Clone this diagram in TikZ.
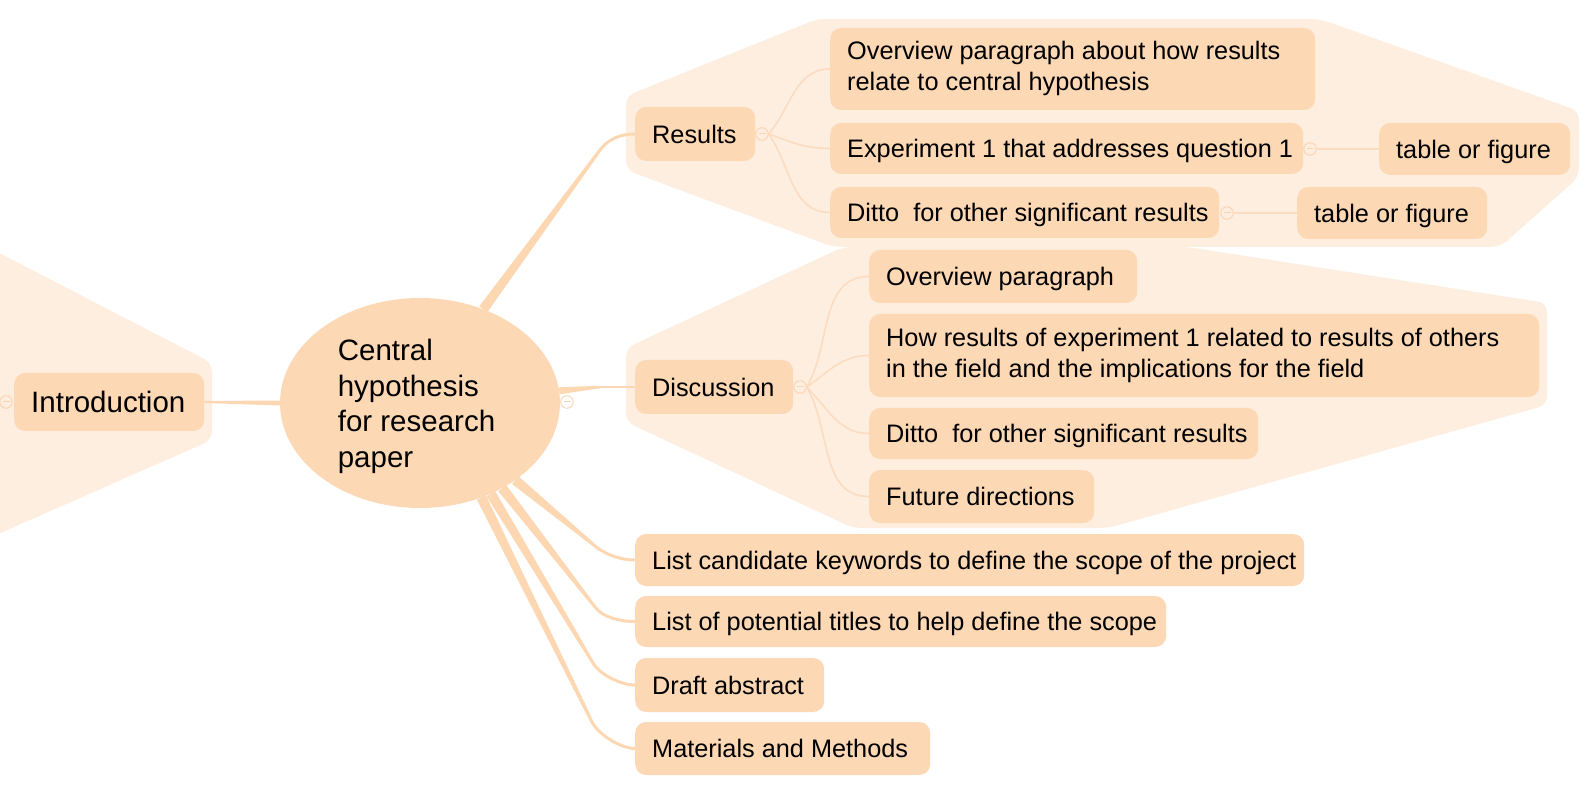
\documentclass[tikz,border=0pt]{standalone}
\usepackage{fontspec}
\setmainfont{Liberation Sans}
\usetikzlibrary{calc,shapes.geometric}
\definecolor{nodefill}{RGB}{253,216,181}
\definecolor{bndfill}{RGB}{254,238,224}
\definecolor{branchc}{RGB}{253,215,178}
\definecolor{twig}{RGB}{252,220,192}
\definecolor{mk}{RGB}{251,212,178}
\pgfdeclarelayer{bndlayer}
\pgfdeclarelayer{brlayer}
\pgfsetlayers{bndlayer,brlayer,main}
\newcommand\taperseg[4]{\fill[branchc] ($(#1)!#3!90:(#2)$) -- ($(#2)!#4!-90:(#1)$) -- ($(#2)!#4!90:(#1)$) -- ($(#1)!#3!-90:(#2)$) -- cycle;}
\newcommand\bendcurve[3]{\fill[branchc] (#2) circle (1.5pt); \draw[branchc, line width=3pt] (#2) .. controls ($(#2)!-14pt!(#1)$) and ($(#3)+(-14,0)$) .. (#3);}
\newcommand\tx[2]{\makebox[#1][l]{#2}}
\newcommand\twolines[2]{\begin{tabular}{@{}l@{}}#1\\#2\end{tabular}}
\tikzset{
  topicbase/.style={fill=nodefill, rounded corners=11pt, inner ysep=0pt, inner xsep=17pt, minimum height=52pt,
    font=\fontsize{25.3}{31}\selectfont, anchor=west, text=black},
  topic/.style={topicbase, text height=18.5pt, text depth=0pt},
  bigtopic/.style={topic, font=\fontsize{29.5}{35.5}\selectfont, text height=21pt, text depth=0pt},
  bnd/.style={fill=bndfill, rounded corners=9pt},
  twigline/.style={draw=twig, line width=1.6pt},
  colmarker/.style={circle, draw=mk, line width=1pt, minimum size=12.5pt, inner sep=0pt,
    path picture={\draw[mk, line width=1pt] ([xshift=-3.5pt]path picture bounding box.center) -- ([xshift=3.5pt]path picture bounding box.center);}}
}
\begin{document}
\begin{tikzpicture}[x=1pt,y=-1pt]
\useasboundingbox (0,0) rectangle (1588,791);
% boundaries
\begin{pgfonlayer}{bndlayer}
\begin{scope}
\clip (0,0) rectangle (1588,791);
\fill[bnd] (-20,243) -- (212,363) -- (212,440) -- (-20,542) -- cycle;
\end{scope}
\fill[bnd] (626,96) -- (817,19) -- (1320,19) -- (1579,111) -- (1579,177) -- (1500,247) -- (833,247) -- (626,170) -- cycle;
\fill[bnd] (626,348) -- (843,247) -- (1188,247) -- (1547,303) -- (1547,405) -- (1108,528) -- (853,528) -- (626,422) -- cycle;
\end{pgfonlayer}

% central topic
\node[ellipse, fill=nodefill, minimum width=280pt, minimum height=210pt, inner sep=0pt,
  font=\fontsize{29.5}{35.5}\selectfont] (hyp) at (420,403)
  {\hspace*{-7pt}\raisebox{-4pt}[\height][\depth]{\begin{tabular}{@{}l@{}}Central\\hypothesis\\for research\\paper\end{tabular}}};

% main topics
\node[bigtopic, minimum height=58pt] (intro) at (14,402) {\tx{156pt}{Introduction}};
\node[topic, minimum height=54pt] (res) at (635,134) {\tx{86pt}{Results}};
\node[topic, minimum height=54pt] (disc) at (635,387) {\tx{124pt}{Discussion}};
\node[topic] (kw) at (635,560) {\tx{635pt}{List candidate keywords to define the scope of the project}};
\node[topic, minimum height=51pt] (titles) at (635,621.5) {\tx{497pt}{List of potential titles to help define the scope}};
\node[topic, minimum height=54pt] (draft) at (635,685) {\tx{155pt}{Draft abstract}};
\node[topic, minimum height=53pt] (meth) at (635,748.5) {\tx{261pt}{Materials and Methods}};

% result children
\node[topicbase, minimum height=82pt] (ovres) at (830,69) {\tx{451pt}{\twolines{Overview paragraph about how results}{relate to central hypothesis}}};
\node[topic, minimum height=51pt] (exp1) at (830,148.5) {\tx{439pt}{Experiment 1 that addresses question 1}};
\node[topic, minimum height=51pt] (dittor) at (830,212.5) {\tx{355pt}{Ditto\ \ for other significant results}};
\node[topic] (tab1) at (1379,149) {\tx{157pt}{table or figure}};
\node[topic] (tab2) at (1297,213) {\tx{156pt}{table or figure}};

% discussion children
\node[topic, minimum height=53pt] (ovp) at (869,276.5) {\tx{234pt}{Overview paragraph}};
\node[topicbase, minimum height=83pt] (how) at (869,355.5) {\tx{636pt}{\twolines{How results of experiment 1 related to results of others}{in the field and the implications for the field}}};
\node[topic, minimum height=51pt] (dittod) at (869,433.5) {\tx{355pt}{Ditto\ \ for other significant results}};
\node[topic, minimum height=53pt] (fut) at (869,496.5) {\tx{191pt}{Future directions}};

% collapse markers
\node[colmarker] (mc) at (567,402) {};
\node[colmarker] (mres) at (762,134) {};
\node[colmarker] (mdisc) at (800,387) {};
\node[colmarker] (mexp) at (1310,149) {};
\node[colmarker] (mdit) at (1227,213) {};
\begin{scope}
\clip (0,0) rectangle (1588,791);
\node[colmarker] (mintro) at (6,402) {};
\end{scope}

% bend coordinates
\coordinate (rb) at (600,150);
\coordinate (dbd) at (600,387);
\coordinate (kb) at (595,546);
\coordinate (tb) at (595,607);
\coordinate (db) at (593,663);
\coordinate (mb) at (592,722);

% main branches
\begin{pgfonlayer}{brlayer}
\taperseg{hyp.180}{intro.east}{2.5pt}{1pt}
\taperseg{hyp.56}{rb}{5pt}{1.5pt}
\bendcurve{hyp.56}{rb}{res.west}
\taperseg{hyp.5}{dbd}{3.5pt}{1.25pt}
\draw[branchc, line width=2.5pt] (dbd) -- (disc.west);
\taperseg{hyp.-39.4}{kb}{5pt}{1.5pt}
\bendcurve{hyp.-39.4}{kb}{kw.west}
\taperseg{hyp.-46.4}{tb}{5pt}{1.5pt}
\bendcurve{hyp.-46.4}{tb}{titles.west}
\taperseg{hyp.-52}{db}{5pt}{1.5pt}
\bendcurve{hyp.-52}{db}{draft.west}
\taperseg{hyp.-57.7}{mb}{5pt}{1.5pt}
\bendcurve{hyp.-57.7}{mb}{meth.west}

% sub branches
\draw[twigline] (mres.east) to[out=50,in=180] (ovres.west);
\draw[twigline] (mres.east) to[out=-20,in=180] (exp1.west);
\draw[twigline] (mres.east) to[out=-55,in=180] (dittor.west);
\draw[twigline] (mexp.east) -- (tab1.west);
\draw[twigline] (mdit.east) -- (tab2.west);
\draw[twigline] (mdisc.east) to[out=60,in=180] (ovp.west);
\draw[twigline] (mdisc.east) to[out=35,in=180] (how.west);
\draw[twigline] (mdisc.east) to[out=-45,in=180] (dittod.west);
\draw[twigline] (mdisc.east) to[out=-60,in=180] (fut.west);
\end{pgfonlayer}
\end{tikzpicture}
\end{document}
